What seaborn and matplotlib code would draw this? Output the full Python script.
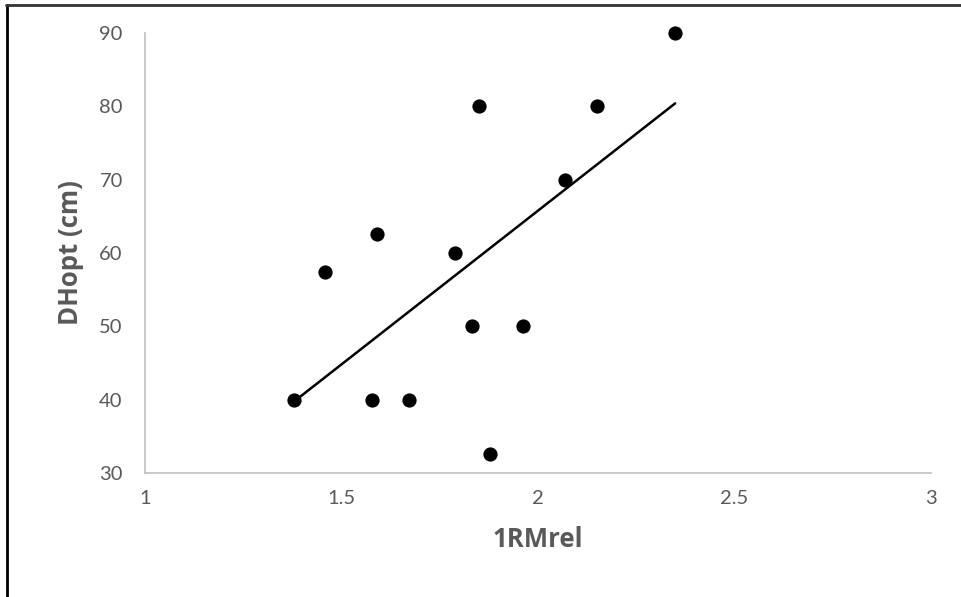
import matplotlib
matplotlib.use("Agg")
import matplotlib.pyplot as plt
from matplotlib.lines import Line2D
import seaborn as sns
import pandas as pd

# Dati
rm_rel = [1.379, 1.458, 1.578, 1.590, 1.672, 1.789, 1.832, 1.850, 1.878, 1.962, 2.069, 2.150, 2.349]
dh_opt = [40, 57.4, 40, 62.6, 40, 60, 50, 80, 32.6, 50, 70, 80, 90]
x_ticks = [1, 1.5, 2, 2.5, 3]
x_tick_labels = ["1", "1.5", "2", "2.5", "3"]
y_ticks = [30, 40, 50, 60, 70, 80, 90]

df = pd.DataFrame({"1RMrel": rm_rel, "DHopt (cm)": dh_opt})

sns.set_style("white")
plt.rcParams["font.family"] = ["Lato", "DejaVu Sans"]

fig = plt.figure(figsize=(9.62, 5.97), dpi=100)
ax = fig.add_axes([0.1507, 0.2077, 0.8171, 0.737])

sns.regplot(data=df, x="1RMrel", y="DHopt (cm)", ax=ax, ci=None, truncate=True,
            scatter_kws={"s": 105, "color": "black", "alpha": 1, "linewidths": 0, "clip_on": False},
            line_kws={"color": "black", "linewidth": 1.8})

ax.set_xlim(1, 3)
ax.set_ylim(30, 90)
ax.set_xticks(x_ticks)
ax.set_xticklabels(x_tick_labels)
ax.set_yticks(y_ticks)
ax.tick_params(axis="both", length=0, labelsize=14.5, labelcolor="#595959")
ax.tick_params(axis="x", pad=12)
ax.tick_params(axis="y", pad=16)

label_font = {"family": ["Open Sans", "DejaVu Sans"], "size": 18.5, "weight": "bold", "color": "#595959"}
ax.set_xlabel("1RMrel", fontdict=label_font, labelpad=14)
ax.set_ylabel("DHopt (cm)", fontdict=label_font, labelpad=11)

for side in ["top", "right"]:
    ax.spines[side].set_visible(False)
for side in ["left", "bottom"]:
    ax.spines[side].set_color("#bfbfbf")
    ax.spines[side].set_linewidth(1.2)

# cornice della figura (bordo sinistro e superiore)
fig.add_artist(Line2D([0.007, 0.007], [0, 0.992], transform=fig.transFigure, color="black", linewidth=2))
fig.add_artist(Line2D([0.006, 1], [0.992, 0.992], transform=fig.transFigure, color="#333333", linewidth=2))

fig.savefig("out.png", dpi=100)
